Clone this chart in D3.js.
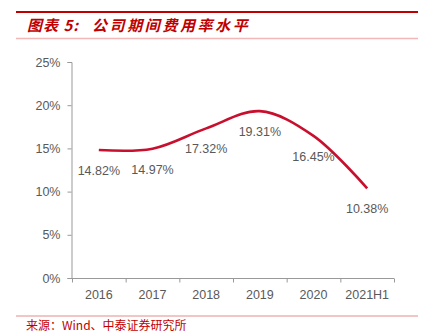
<!DOCTYPE html>
<html><head><meta charset="utf-8">
<script src="https://cdn.jsdelivr.net/npm/d3@7/dist/d3.min.js"></script>
<style>html,body{margin:0;padding:0;background:#fff;}svg{display:block;}</style>
</head><body>
<svg id="c" width="424" height="336"></svg>
<script>
const categories = ["2016","2017","2018","2019","2020","2021H1"];
const values = [14.82, 14.97, 17.32, 19.31, 16.45, 10.38];
const valueLabels = ["14.82%","14.97%","17.32%","19.31%","16.45%","10.38%"];
const yTicks = [0,5,10,15,20,25];

const svg = d3.select("#c");
const red = "#C00000";
const lineColor = "#C8102E";
const txt = "#595959";
const font = "'Liberation Sans', Arial, sans-serif";
const cjk = "'Noto Sans CJK SC', sans-serif";

// header
svg.append("line").attr("x1",16).attr("x2",418).attr("y1",12).attr("y2",12)
  .attr("stroke","#C00000").attr("stroke-width",2);
svg.append("line").attr("x1",16).attr("x2",418).attr("y1",38.5).attr("y2",38.5)
  .attr("stroke","#F2B8B8").attr("stroke-width",1.5);
svg.append("text").attr("x",27).attr("y",31).attr("fill",red)
  .attr("font-family",cjk).attr("font-size",15).attr("font-weight","bold").attr("font-style","italic")
  .attr("letter-spacing",1)
  .text("图表 5:");
svg.append("text").attr("x",92).attr("y",31).attr("fill",red)
  .attr("font-family",cjk).attr("font-size",15).attr("font-weight","bold").attr("font-style","italic")
  .attr("letter-spacing",2.6)
  .text("公司期间费用率水平");

// footer
svg.append("line").attr("x1",16).attr("x2",418).attr("y1",316).attr("y2",316)
  .attr("stroke","#E88A8A").attr("stroke-width",1);
svg.append("text").attr("x",26).attr("y",330).attr("fill",red)
  .attr("font-family",cjk).attr("font-size",12)
  .text("来源：Wind、中泰证券研究所");

// scales
const x = d3.scaleBand().domain(categories).range([72,394]);
const y = d3.scaleLinear().domain([0,25]).range([278,62]);

// y axis
const ya = svg.append("g").attr("transform","translate(71.5,0)")
  .call(d3.axisLeft(y).tickValues(yTicks).tickSize(4).tickPadding(7).tickFormat(d=>d+"%"));
ya.selectAll("path,line").attr("stroke","#999");
ya.select(".domain").attr("d","M-4,62.5H0.5V278.5H-4");
ya.selectAll("text").attr("fill",txt).attr("font-family",font).attr("font-size",12.5);

// x axis
const xa = svg.append("g").attr("transform","translate(0,278.5)")
  .call(d3.axisBottom(x).tickSize(0).tickPadding(12));
xa.select(".domain").attr("stroke","#999").attr("d","M72,0H394");
xa.selectAll("text").attr("fill",txt).attr("font-family",font).attr("font-size",12.5);
const bounds = categories.map(c=>x(c)).concat([x(categories[categories.length-1])+x.bandwidth()]);
xa.selectAll(".bt").data(bounds).enter().append("line")
  .attr("x1",d=>d+0.5).attr("x2",d=>d+0.5).attr("y1",0).attr("y2",4).attr("stroke","#999");

// line
const cx = c => x(c) + x.bandwidth()/2;
const line = d3.line().x((d,i)=>cx(categories[i])).y(d=>y(d)).curve(d3.curveCatmullRom.alpha(0.5));
svg.append("path").datum(values).attr("d",line).attr("fill","none")
  .attr("stroke",lineColor).attr("stroke-width",2.6);

// labels
svg.selectAll(".vl").data(values).enter().append("text")
  .attr("x",(d,i)=>cx(categories[i])).attr("y",d=>y(d)+25)
  .attr("text-anchor","middle").attr("fill",txt).attr("font-family",font).attr("font-size",12.5)
  .text((d,i)=>valueLabels[i]);
</script>
</body></html>
